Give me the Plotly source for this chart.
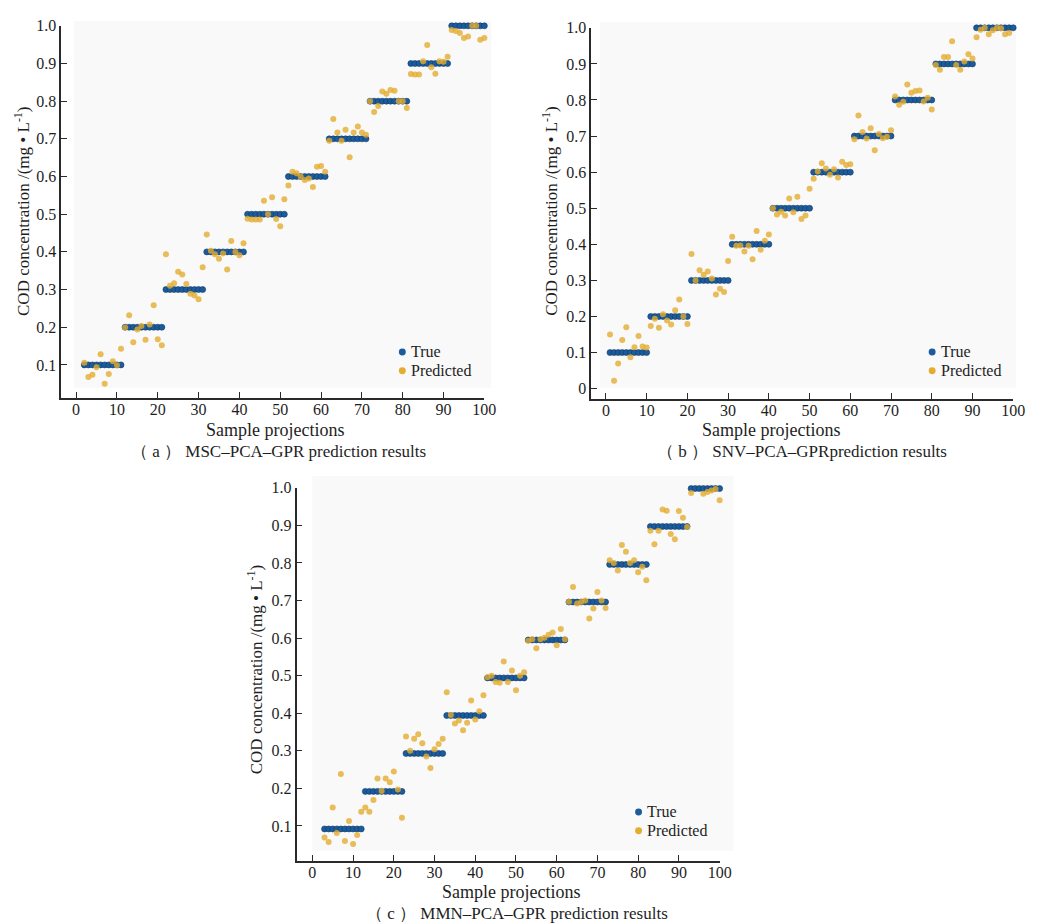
import plotly.graph_objects as go

W, H = 1043, 924

# ---------------- data ----------------
ticks_x = [0, 10, 20, 30, 40, 50, 60, 70, 80, 90, 100]
ticks_y_a = [0.1, 0.2, 0.3, 0.4, 0.5, 0.6, 0.7, 0.8, 0.9, 1.0]
ticks_y_b = [0.0, 0.1, 0.2, 0.3, 0.4, 0.5, 0.6, 0.7, 0.8, 0.9, 1.0]
ticks_y_c = [0.1, 0.2, 0.3, 0.4, 0.5, 0.6, 0.7, 0.8, 0.9, 1.0]
ticktext_y_a = ["0.1", "0.2", "0.3", "0.4", "0.5", "0.6", "0.7", "0.8", "0.9", "1.0"]
ticktext_y_b = ["0", "0.1", "0.2", "0.3", "0.4", "0.5", "0.6", "0.7", "0.8", "0.9", "1.0"]
ticktext_y_c = ticktext_y_a

# (a) MSC-PCA-GPR : samples 2..101
samples_a = list(range(2, 102))
true_a = [
    0.1, 0.1, 0.1, 0.1, 0.1, 0.1, 0.1, 0.1, 0.1, 0.1,
    0.2, 0.2, 0.2, 0.2, 0.2, 0.2, 0.2, 0.2, 0.2, 0.2,
    0.3, 0.3, 0.3, 0.3, 0.3, 0.3, 0.3, 0.3, 0.3, 0.3,
    0.4, 0.4, 0.4, 0.4, 0.4, 0.4, 0.4, 0.4, 0.4, 0.4,
    0.5, 0.5, 0.5, 0.5, 0.5, 0.5, 0.5, 0.5, 0.5, 0.5,
    0.6, 0.6, 0.6, 0.6, 0.6, 0.6, 0.6, 0.6, 0.6, 0.6,
    0.7, 0.7, 0.7, 0.7, 0.7, 0.7, 0.7, 0.7, 0.7, 0.7,
    0.8, 0.8, 0.8, 0.8, 0.8, 0.8, 0.8, 0.8, 0.8, 0.8,
    0.9, 0.9, 0.9, 0.9, 0.9, 0.9, 0.9, 0.9, 0.9, 0.9,
    1.0, 1.0, 1.0, 1.0, 1.0, 1.0, 1.0, 1.0, 1.0, 1.0,
]
pred_a = [
    0.106, 0.068, 0.074, 0.094, 0.128, 0.050, 0.076, 0.110, 0.099, 0.143,
    0.199, 0.232, 0.160, 0.194, 0.203, 0.167, 0.207, 0.258, 0.168, 0.152,
    0.394, 0.310, 0.317, 0.347, 0.340, 0.315, 0.289, 0.284, 0.274, 0.359,
    0.446, 0.403, 0.394, 0.382, 0.396, 0.353, 0.429, 0.400, 0.391, 0.423,
    0.488, 0.486, 0.486, 0.486, 0.536, 0.500, 0.545, 0.487, 0.468, 0.540,
    0.576, 0.613, 0.609, 0.600, 0.591, 0.595, 0.572, 0.626, 0.628, 0.613,
    0.695, 0.753, 0.717, 0.695, 0.724, 0.651, 0.717, 0.733, 0.717, 0.711,
    0.800, 0.771, 0.787, 0.826, 0.820, 0.830, 0.828, 0.800, 0.800, 0.782,
    0.872, 0.871, 0.871, 0.906, 0.949, 0.890, 0.873, 0.906, 0.905, 0.918,
    0.989, 0.986, 0.981, 0.968, 0.972, 1.000, 1.000, 0.963, 0.968, 1.003,
]

# (b) SNV-PCA-GPR : samples 1..100
samples_b = list(range(1, 101))
true_b = [
    0.1, 0.1, 0.1, 0.1, 0.1, 0.1, 0.1, 0.1, 0.1, 0.1,
    0.2, 0.2, 0.2, 0.2, 0.2, 0.2, 0.2, 0.2, 0.2, 0.2,
    0.3, 0.3, 0.3, 0.3, 0.3, 0.3, 0.3, 0.3, 0.3, 0.3,
    0.4, 0.4, 0.4, 0.4, 0.4, 0.4, 0.4, 0.4, 0.4, 0.4,
    0.5, 0.5, 0.5, 0.5, 0.5, 0.5, 0.5, 0.5, 0.5, 0.5,
    0.6, 0.6, 0.6, 0.6, 0.6, 0.6, 0.6, 0.6, 0.6, 0.6,
    0.7, 0.7, 0.7, 0.7, 0.7, 0.7, 0.7, 0.7, 0.7, 0.7,
    0.8, 0.8, 0.8, 0.8, 0.8, 0.8, 0.8, 0.8, 0.8, 0.8,
    0.9, 0.9, 0.9, 0.9, 0.9, 0.9, 0.9, 0.9, 0.9, 0.9,
    1.0, 1.0, 1.0, 1.0, 1.0, 1.0, 1.0, 1.0, 1.0, 1.0,
]
pred_b = [
    0.150, 0.022, 0.070, 0.135, 0.170, 0.087, 0.115, 0.146, 0.117, 0.114,
    0.174, 0.194, 0.169, 0.206, 0.189, 0.178, 0.217, 0.247, 0.200, 0.179,
    0.373, 0.300, 0.328, 0.316, 0.325, 0.305, 0.261, 0.277, 0.268, 0.354,
    0.421, 0.396, 0.397, 0.380, 0.396, 0.359, 0.437, 0.385, 0.410, 0.427,
    0.500, 0.483, 0.490, 0.480, 0.527, 0.489, 0.532, 0.470, 0.480, 0.554,
    0.582, 0.602, 0.625, 0.610, 0.593, 0.608, 0.585, 0.629, 0.620, 0.622,
    0.691, 0.757, 0.711, 0.693, 0.722, 0.661, 0.706, 0.694, 0.698, 0.716,
    0.810, 0.787, 0.795, 0.843, 0.820, 0.825, 0.826, 0.796, 0.806, 0.774,
    0.897, 0.884, 0.919, 0.919, 0.963, 0.897, 0.884, 0.907, 0.927, 0.915,
    0.974, 0.995, 1.000, 0.982, 0.993, 1.000, 0.999, 0.982, 0.986, 1.010,
]

# (c) MMN-PCA-GPR : samples 3..102
samples_c = list(range(3, 103))
true_c = [
    0.092, 0.092, 0.092, 0.092, 0.092, 0.092, 0.092, 0.092, 0.092, 0.092,
    0.192, 0.192, 0.192, 0.192, 0.192, 0.192, 0.192, 0.192, 0.192, 0.192,
    0.293, 0.293, 0.293, 0.293, 0.293, 0.293, 0.293, 0.293, 0.293, 0.293,
    0.394, 0.394, 0.394, 0.394, 0.394, 0.394, 0.394, 0.394, 0.394, 0.394,
    0.494, 0.494, 0.494, 0.494, 0.494, 0.494, 0.494, 0.494, 0.494, 0.494,
    0.595, 0.595, 0.595, 0.595, 0.595, 0.595, 0.595, 0.595, 0.595, 0.595,
    0.696, 0.696, 0.696, 0.696, 0.696, 0.696, 0.696, 0.696, 0.696, 0.696,
    0.796, 0.796, 0.796, 0.796, 0.796, 0.796, 0.796, 0.796, 0.796, 0.796,
    0.897, 0.897, 0.897, 0.897, 0.897, 0.897, 0.897, 0.897, 0.897, 0.897,
    0.998, 0.998, 0.998, 0.998, 0.998, 0.998, 0.998, 0.998, 0.998, 0.998,
]
pred_c = [
    0.069, 0.057, 0.149, 0.081, 0.238, 0.060, 0.113, 0.052, 0.076, 0.138,
    0.149, 0.138, 0.169, 0.226, 0.193, 0.226, 0.216, 0.245, 0.197, 0.122,
    0.338, 0.300, 0.332, 0.344, 0.320, 0.285, 0.254, 0.304, 0.318, 0.332,
    0.456, 0.395, 0.373, 0.381, 0.355, 0.375, 0.434, 0.383, 0.405, 0.448,
    0.496, 0.500, 0.483, 0.481, 0.538, 0.483, 0.514, 0.461, 0.500, 0.509,
    0.593, 0.597, 0.573, 0.597, 0.601, 0.609, 0.615, 0.581, 0.624, 0.597,
    0.697, 0.736, 0.692, 0.696, 0.700, 0.652, 0.679, 0.723, 0.700, 0.680,
    0.807, 0.800, 0.780, 0.848, 0.830, 0.800, 0.807, 0.775, 0.790, 0.754,
    0.886, 0.850, 0.886, 0.942, 0.939, 0.877, 0.863, 0.938, 0.920, 0.896,
    0.986, 1.004, 1.004, 0.984, 0.989, 0.993, 0.997, 0.967, 0.980, 1.018,
]

series_names = ["True", "Predicted"]
captions = [
    "（ a ） MSC\u2013PCA\u2013GPR prediction results",
    "（ b ） SNV\u2013PCA\u2013GPRprediction results",
    "（ c ） MMN\u2013PCA\u2013GPR prediction results",
]
x_title = "Sample projections"
y_title = "COD concentration /(mg \u2022 L<sup>-1</sup>)"

# ---------------- style ----------------
FONT = "Liberation Serif, Times New Roman, serif"
BLUE = "#1c5b9c"
BLUE_EDGE = "#0e3a6a"
ORANGE = "#e4ad2f"
AXC = "#2a2a2a"
TXT = "#1e1e1e"
BG = "#f9f9f9"
series_colors = [BLUE, ORANGE]


def px2x(px):
    return px / W


def py2y(py):
    return 1 - py / H


# panel geometry in pixels: axis-line box and the grey background box
panels = [
    dict(ax=(62, 490, 18, 393), bg=(75, 497, 13, 383), xr=[-3.63, 100], yr=[0.0132, 1.0],
         samples=samples_a, true=true_a, pred=pred_a, yt=ticks_y_a, ytt=ticktext_y_a,
         leg=(407, 347, 366), ytitle=(22, 205), xtitle=(278, 426), cap=(282, 447)),
    dict(ax=(598, 1025, 20, 394), bg=(607, 1028, 14, 383), xr=[-3.64, 100], yr=[-0.0275, 1.0],
         samples=samples_b, true=true_b, pred=pred_b, yt=ticks_y_b, ytt=ticktext_y_b,
         leg=(943, 347, 366), ytitle=(557, 205), xtitle=(780, 426), cap=(811, 447)),
    dict(ax=(300, 728, 484, 860), bg=(316, 742, 472, 850), xr=[-3.88, 100], yr=[0.0079, 1.0],
         samples=samples_c, true=true_c, pred=pred_c, yt=ticks_y_c, ytt=ticktext_y_c,
         leg=(646, 811, 830), ytitle=(258, 668), xtitle=(517, 892), cap=(523, 913)),
]

fig = go.Figure()
shapes = []
annotations = []
layout = {}

for i, p in enumerate(panels):
    n = "" if i == 0 else str(i + 1)
    xa, ya = "x" + n, "y" + n
    fig.add_trace(go.Scatter(
        x=p["samples"], y=p["true"], mode="markers", name=series_names[0],
        xaxis=xa, yaxis=ya, cliponaxis=False, showlegend=False,
        marker=dict(size=6, color=BLUE, line=dict(width=0.6, color=BLUE_EDGE)),
    ))
    fig.add_trace(go.Scatter(
        x=p["samples"], y=p["pred"], mode="markers", name=series_names[1],
        xaxis=xa, yaxis=ya, cliponaxis=False, showlegend=False,
        marker=dict(size=6, color=ORANGE, opacity=0.8, line=dict(width=0)),
    ))
    x0, x1, y0, y1 = p["ax"]
    layout["xaxis" + n] = dict(
        domain=[px2x(x0), px2x(x1)], range=p["xr"], anchor=ya,
        tickvals=ticks_x, ticktext=[str(v) for v in ticks_x],
        ticks="inside", ticklen=6, tickwidth=1.2, tickcolor=AXC,
        showline=True, linecolor=AXC, linewidth=1.5, showgrid=False, zeroline=False,
        tickfont=dict(family=FONT, size=16, color=TXT), ticklabelstandoff=-4,
    )
    layout["yaxis" + n] = dict(
        domain=[py2y(y1), py2y(y0)], range=p["yr"], anchor=xa,
        tickvals=p["yt"], ticktext=p["ytt"],
        ticks="inside", ticklen=6, tickwidth=1.2, tickcolor=AXC,
        showline=True, linecolor=AXC, linewidth=1.5, showgrid=False, zeroline=False,
        tickfont=dict(family=FONT, size=16, color=TXT),
    )
    bx0, bx1, by0, by1 = p["bg"]
    shapes.append(dict(type="rect", xref="paper", yref="paper",
                       x0=px2x(bx0), x1=px2x(bx1), y0=py2y(by1), y1=py2y(by0),
                       fillcolor=BG, line=dict(width=0), layer="below"))
    # legend (symbol + label) per panel
    lx, ly1, ly2 = p["leg"]
    for name, col, ly in zip(series_names, series_colors, (ly1, ly2)):
        r = 3.5
        shapes.append(dict(type="circle", xref="paper", yref="paper",
                           x0=px2x(lx - r), x1=px2x(lx + r), y0=py2y(ly + r), y1=py2y(ly - r),
                           fillcolor=col, line=dict(width=0)))
        annotations.append(dict(text=name, x=px2x(lx + 8), y=py2y(ly), xref="paper", yref="paper",
                                showarrow=False, xanchor="left", yanchor="middle", borderpad=0,
                                font=dict(family=FONT, size=16, color=TXT)))
    tx, ty = p["ytitle"]
    annotations.append(dict(text=y_title, x=px2x(tx), y=py2y(ty), xref="paper", yref="paper",
                            showarrow=False, textangle=-90, xanchor="center", yanchor="middle",
                            font=dict(family=FONT, size=17, color=TXT)))
    tx, ty = p["xtitle"]
    annotations.append(dict(text=x_title, x=px2x(tx), y=py2y(ty), xref="paper", yref="paper",
                            showarrow=False, xanchor="center", yanchor="middle",
                            font=dict(family=FONT, size=18, color=TXT)))
    tx, ty = p["cap"]
    annotations.append(dict(text=captions[i], x=px2x(tx), y=py2y(ty), xref="paper", yref="paper",
                            showarrow=False, xanchor="center", yanchor="middle",
                            font=dict(family=FONT, size=17, color=TXT)))

fig.update_layout(
    width=W, height=H, margin=dict(l=0, r=0, t=0, b=0),
    paper_bgcolor="white", plot_bgcolor="rgba(0,0,0,0)",
    showlegend=False, shapes=shapes, annotations=annotations,
    font=dict(family=FONT, size=16, color=TXT),
    **layout,
)

fig.write_html("out.html", config={"displayModeBar": False},
               post_script="document.body.style.margin='0px';")
